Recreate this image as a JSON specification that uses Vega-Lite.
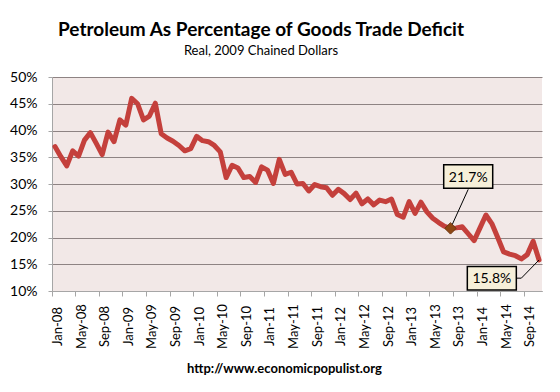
{
  "$schema": "https://vega.github.io/schema/vega-lite/v6.json",
  "width": 490,
  "height": 214,
  "autosize": {"type": "none"},
  "padding": {"left": 52, "top": 77, "right": 18, "bottom": 101},
  "background": "white",
  "config": {"font": "Lato", "view": {"fill": "#F2E8E7", "stroke": null}},
  "title": {
    "text": "Petroleum As Percentage of Goods Trade Deficit",
    "subtitle": "Real, 2009 Chained Dollars",
    "font": "Lato",
    "fontSize": 19,
    "fontWeight": "bold",
    "color": "black",
    "subtitleFont": "Lato",
    "subtitleFontSize": 13,
    "subtitleColor": "black",
    "subtitlePadding": 5,
    "anchor": "middle",
    "frame": "group",
    "dx": -36,
    "offset": 12
  },
  "datasets": {
    "series": [
      {"month": "Jan-08", "value": 37.0}, {"month": "Feb-08", "value": 35.1}, {"month": "Mar-08", "value": 33.4}, {"month": "Apr-08", "value": 36.2},
      {"month": "May-08", "value": 35.2}, {"month": "Jun-08", "value": 38.2}, {"month": "Jul-08", "value": 39.6}, {"month": "Aug-08", "value": 37.6},
      {"month": "Sep-08", "value": 35.5}, {"month": "Oct-08", "value": 39.7}, {"month": "Nov-08", "value": 37.9}, {"month": "Dec-08", "value": 42.0},
      {"month": "Jan-09", "value": 41.0}, {"month": "Feb-09", "value": 46.0}, {"month": "Mar-09", "value": 45.0}, {"month": "Apr-09", "value": 42.0},
      {"month": "May-09", "value": 42.7}, {"month": "Jun-09", "value": 45.1}, {"month": "Jul-09", "value": 39.4}, {"month": "Aug-09", "value": 38.6},
      {"month": "Sep-09", "value": 38.0}, {"month": "Oct-09", "value": 37.2}, {"month": "Nov-09", "value": 36.2}, {"month": "Dec-09", "value": 36.6},
      {"month": "Jan-10", "value": 38.9}, {"month": "Feb-10", "value": 38.1}, {"month": "Mar-10", "value": 37.9}, {"month": "Apr-10", "value": 37.2},
      {"month": "May-10", "value": 36.0}, {"month": "Jun-10", "value": 31.2}, {"month": "Jul-10", "value": 33.5}, {"month": "Aug-10", "value": 33.0},
      {"month": "Sep-10", "value": 31.2}, {"month": "Oct-10", "value": 31.4}, {"month": "Nov-10", "value": 30.3}, {"month": "Dec-10", "value": 33.2},
      {"month": "Jan-11", "value": 32.6}, {"month": "Feb-11", "value": 30.1}, {"month": "Mar-11", "value": 34.6}, {"month": "Apr-11", "value": 31.8},
      {"month": "May-11", "value": 32.2}, {"month": "Jun-11", "value": 30.0}, {"month": "Jul-11", "value": 30.1}, {"month": "Aug-11", "value": 28.7},
      {"month": "Sep-11", "value": 29.9}, {"month": "Oct-11", "value": 29.5}, {"month": "Nov-11", "value": 29.3}, {"month": "Dec-11", "value": 27.9},
      {"month": "Jan-12", "value": 29.0}, {"month": "Feb-12", "value": 28.2}, {"month": "Mar-12", "value": 27.1}, {"month": "Apr-12", "value": 28.3},
      {"month": "May-12", "value": 26.3}, {"month": "Jun-12", "value": 27.2}, {"month": "Jul-12", "value": 26.1}, {"month": "Aug-12", "value": 27.0},
      {"month": "Sep-12", "value": 26.7}, {"month": "Oct-12", "value": 27.2}, {"month": "Nov-12", "value": 24.3}, {"month": "Dec-12", "value": 23.8},
      {"month": "Jan-13", "value": 26.7}, {"month": "Feb-13", "value": 24.5}, {"month": "Mar-13", "value": 26.6}, {"month": "Apr-13", "value": 24.8},
      {"month": "May-13", "value": 23.6}, {"month": "Jun-13", "value": 22.8}, {"month": "Jul-13", "value": 22.1}, {"month": "Aug-13", "value": 21.7},
      {"month": "Sep-13", "value": 21.8}, {"month": "Oct-13", "value": 22.0}, {"month": "Nov-13", "value": 20.7}, {"month": "Dec-13", "value": 19.4},
      {"month": "Jan-14", "value": 21.8}, {"month": "Feb-14", "value": 24.2}, {"month": "Mar-14", "value": 22.6}, {"month": "Apr-14", "value": 20.0},
      {"month": "May-14", "value": 17.3}, {"month": "Jun-14", "value": 16.9}, {"month": "Jul-14", "value": 16.6}, {"month": "Aug-14", "value": 16.0},
      {"month": "Sep-14", "value": 16.8}, {"month": "Oct-14", "value": 19.3}, {"month": "Nov-14", "value": 15.8}
    ],
    "leaders": [
      {"seg": "a", "month": "Aug-13", "value": 21.7},
      {"seg": "a", "month": "Nov-13", "value": 29.0},
      {"seg": "b", "month": "Nov-14", "value": 15.8},
      {"seg": "b", "month": "Aug-14", "value": 12.4},
      {"seg": "b", "month": "Jul-14", "value": 12.4}
    ],
    "marker": [{"month": "Aug-13", "value": 21.7}],
    "ann": [
      {"month": "Nov-13", "value": 31.4, "label": "21.7%"},
      {"month": "Mar-14", "value": 12.4, "label": "15.8%"}
    ]
  },
  "encoding": {
    "x": {
      "field": "month",
      "type": "ordinal",
      "sort": null,
      "scale": {
        "type": "band",
        "paddingInner": 0,
        "paddingOuter": 0,
        "domain": [
          "Jan-08","Feb-08","Mar-08","Apr-08","May-08","Jun-08","Jul-08","Aug-08","Sep-08","Oct-08","Nov-08","Dec-08",
          "Jan-09","Feb-09","Mar-09","Apr-09","May-09","Jun-09","Jul-09","Aug-09","Sep-09","Oct-09","Nov-09","Dec-09",
          "Jan-10","Feb-10","Mar-10","Apr-10","May-10","Jun-10","Jul-10","Aug-10","Sep-10","Oct-10","Nov-10","Dec-10",
          "Jan-11","Feb-11","Mar-11","Apr-11","May-11","Jun-11","Jul-11","Aug-11","Sep-11","Oct-11","Nov-11","Dec-11",
          "Jan-12","Feb-12","Mar-12","Apr-12","May-12","Jun-12","Jul-12","Aug-12","Sep-12","Oct-12","Nov-12","Dec-12",
          "Jan-13","Feb-13","Mar-13","Apr-13","May-13","Jun-13","Jul-13","Aug-13","Sep-13","Oct-13","Nov-13","Dec-13",
          "Jan-14","Feb-14","Mar-14","Apr-14","May-14","Jun-14","Jul-14","Aug-14","Sep-14","Oct-14","Nov-14"
        ]
      },
      "axis": {
        "values": ["Jan-08","May-08","Sep-08","Jan-09","May-09","Sep-09","Jan-10","May-10","Sep-10","Jan-11","May-11","Sep-11","Jan-12","May-12","Sep-12","Jan-13","May-13","Sep-13","Jan-14","May-14","Sep-14"],
        "bandPosition": 0,
        "labelOffset": 2.95,
        "labelAngle": 270,
        "labelAlign": "center",
        "labelBaseline": "middle",
        "labelFont": "Lato",
        "labelFontSize": 13,
        "labelColor": "black",
        "labelPadding": 30,
        "labelOverlap": false,
        "tickSize": 5,
        "tickColor": "#A6A6A6",
        "domainColor": "#A6A6A6",
        "grid": false,
        "title": "http://www.economicpopulist.org",
        "titleFont": "Lato",
        "titleFontSize": 13,
        "titleFontWeight": "bold",
        "titleColor": "black",
        "titleX": 232,
        "titleY": 81,
        "titleAlign": "center",
        "titleBaseline": "alphabetic"
      }
    },
    "y": {
      "field": "value",
      "type": "quantitative",
      "scale": {"domain": [10, 50], "nice": false, "zero": false},
      "axis": {
        "values": [10, 15, 20, 25, 30, 35, 40, 45, 50],
        "labelExpr": "datum.value + '%'",
        "labelFont": "Lato",
        "labelFontSize": 14,
        "labelColor": "black",
        "labelPadding": 11,
        "tickSize": 4,
        "tickColor": "#A6A6A6",
        "domainColor": "#A6A6A6",
        "grid": true,
        "gridColor": "#8E8383",
        "gridWidth": 1,
        "title": null
      }
    }
  },
  "layer": [
    {
      "data": {"name": "series"},
      "mark": {"type": "line", "color": "#C4403C", "strokeWidth": 5, "strokeJoin": "round", "strokeCap": "round"},
      "encoding": {"order": {"value": null}}
    },
    {
      "data": {"name": "leaders"},
      "mark": {"type": "line", "color": "black", "strokeWidth": 1},
      "encoding": {"detail": {"field": "seg"}, "order": {"value": null}}
    },
    {
      "data": {"name": "marker"},
      "mark": {"type": "point", "shape": "diamond", "filled": true, "fill": "#8E4712", "stroke": "#6E3510", "strokeWidth": 1, "size": 130, "opacity": 1}
    },
    {
      "data": {"name": "ann"},
      "mark": {"type": "point", "shape": "M-1,-0.48H1V0.48H-1Z", "size": 2401, "filled": true, "fill": "#F6EFD9", "stroke": "black", "strokeWidth": 1.5, "opacity": 1}
    },
    {
      "data": {"name": "ann"},
      "mark": {"type": "text", "font": "Lato", "fontSize": 14, "color": "black", "align": "center", "baseline": "middle", "dy": 1},
      "encoding": {"text": {"field": "label"}}
    }
  ]
}
